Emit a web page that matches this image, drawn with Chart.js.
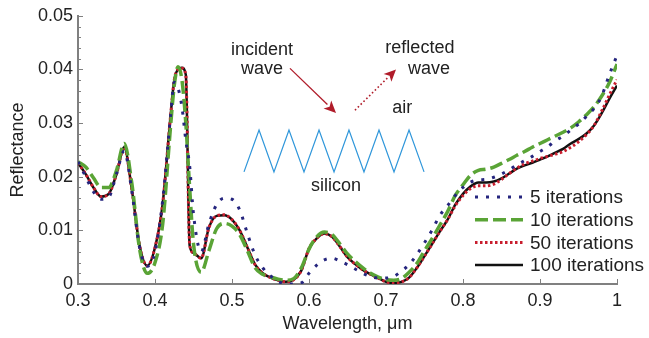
<!DOCTYPE html>
<html>
<head>
<meta charset="utf-8">
<script src="https://cdn.jsdelivr.net/npm/chart.js@4.4.0/dist/chart.umd.min.js"></script>
<style>
    html, body { margin: 0; padding: 0; background: #fff; }
    #wrap { width: 649px; height: 338px; }
</style>
</head>
<body>
<div id="wrap"><canvas id="chart" width="649" height="338"></canvas></div>
<script>
// wavelength grid (um)
const wavelength = [0.30, 0.31, 0.32, 0.33, 0.34, 0.35, 0.36, 0.37, 0.38, 0.39, 0.40, 0.41, 0.42, 0.425, 0.43, 0.435, 0.44, 0.445, 0.45,
    0.46, 0.47, 0.48, 0.49, 0.50, 0.51, 0.52, 0.53, 0.54, 0.55, 0.56, 0.57, 0.58, 0.59, 0.60, 0.61, 0.62, 0.63, 0.64, 0.65,
    0.66, 0.67, 0.68, 0.69, 0.70, 0.71, 0.72, 0.73, 0.74, 0.75, 0.76, 0.77, 0.78, 0.79, 0.80, 0.81, 0.82, 0.83, 0.84, 0.85,
    0.86, 0.87, 0.88, 0.89, 0.90, 0.91, 0.92, 0.93, 0.94, 0.95, 0.96, 0.97, 0.98, 0.99, 1.00];

const iter5 = [0.0228, 0.0200, 0.0172, 0.0158, 0.0162, 0.0205, 0.0248, 0.0172, 0.0068, 0.0033, 0.0060, 0.0156, 0.0310, 0.0376, 0.0365, 0.0330, 0.0268, 0.0220, 0.0130,
    0.0060, 0.0112, 0.0148, 0.0160, 0.0158, 0.0138, 0.0094, 0.0054, 0.0030, 0.0015, 0.0005, 0.0000, 0.0000, 0.0002, 0.0020, 0.0035, 0.0045, 0.0048, 0.0043, 0.0036,
    0.0028, 0.0020, 0.0014, 0.0011, 0.0011, 0.0014, 0.0024, 0.0036, 0.0055, 0.0077, 0.0101, 0.0128, 0.0146, 0.0165, 0.0180, 0.0190, 0.0194, 0.0195, 0.0199, 0.0205,
    0.0213, 0.0222, 0.0230, 0.0238, 0.0247, 0.0256, 0.0267, 0.0276, 0.0287, 0.0298, 0.0312, 0.0327, 0.0350, 0.0390, 0.0426];

const iter10 = [0.0228, 0.0218, 0.0198, 0.0180, 0.0180, 0.0212, 0.0262, 0.0187, 0.0065, 0.0020, 0.0040, 0.0112, 0.0290, 0.0370, 0.0405, 0.0380, 0.0300, 0.0180, 0.0075,
    0.0022, 0.0062, 0.0103, 0.0113, 0.0108, 0.0092, 0.0062, 0.0030, 0.0018, 0.0013, 0.0009, 0.0007, 0.0010, 0.0030, 0.0065, 0.0088, 0.0097, 0.0092, 0.0075, 0.0056,
    0.0042, 0.0030, 0.0020, 0.0013, 0.0008, 0.0007, 0.0010, 0.0022, 0.0038, 0.0062, 0.0085, 0.0110, 0.0135, 0.0165, 0.0185, 0.0203, 0.0212, 0.0214, 0.0218, 0.0225,
    0.0232, 0.0240, 0.0247, 0.0255, 0.0262, 0.0269, 0.0276, 0.0283, 0.0291, 0.0302, 0.0315, 0.0330, 0.0350, 0.0375, 0.0410];

const iter50 = [0.0226, 0.0205, 0.0180, 0.0163, 0.0168, 0.0205, 0.0255, 0.0175, 0.0071, 0.0034, 0.0068, 0.0150, 0.0310, 0.0380, 0.0400, 0.0402, 0.0390, 0.0074, 0.0058,
    0.0048, 0.0105, 0.0127, 0.0129, 0.0120, 0.0100, 0.0068, 0.0036, 0.0020, 0.0012, 0.0007, 0.0004, 0.0008, 0.0025, 0.0066, 0.0085, 0.0094, 0.0088, 0.0070, 0.0050,
    0.0037, 0.0026, 0.0018, 0.0011, 0.0004, 0.0002, 0.0004, 0.0012, 0.0030, 0.0052, 0.0075, 0.0098, 0.0120, 0.0146, 0.0165, 0.0178, 0.0183, 0.0183, 0.0186, 0.0195,
    0.0206, 0.0216, 0.0224, 0.0229, 0.0234, 0.0238, 0.0242, 0.0247, 0.0255, 0.0265, 0.0278, 0.0295, 0.0322, 0.0352, 0.0381];

const iter100 = [0.0226, 0.0205, 0.0180, 0.0163, 0.0168, 0.0205, 0.0255, 0.0175, 0.0072, 0.0034, 0.0068, 0.0150, 0.0310, 0.0380, 0.0400, 0.0403, 0.0390, 0.0072, 0.0058,
    0.0048, 0.0105, 0.0127, 0.0128, 0.0120, 0.0100, 0.0068, 0.0036, 0.0020, 0.0012, 0.0007, 0.0004, 0.0008, 0.0025, 0.0066, 0.0085, 0.0094, 0.0088, 0.0070, 0.0050,
    0.0037, 0.0026, 0.0018, 0.0011, 0.0004, 0.0002, 0.0004, 0.0012, 0.0030, 0.0052, 0.0075, 0.0098, 0.0120, 0.0148, 0.0168, 0.0182, 0.0189, 0.0189, 0.0191, 0.0197,
    0.0206, 0.0215, 0.0221, 0.0226, 0.0232, 0.0238, 0.0245, 0.0252, 0.0262, 0.0270, 0.0280, 0.0295, 0.0318, 0.0345, 0.0370];

const seriesLabels = ['5 iterations', '10 iterations', '50 iterations', '100 iterations'];

// inset sketch, in data units
const noteTexts = [
    { text: 'incident', x: 0.539, y: 0.0437 },
    { text: 'wave', x: 0.539, y: 0.0400 },
    { text: 'reflected', x: 0.744, y: 0.0439 },
    { text: 'wave', x: 0.756, y: 0.0400 },
    { text: 'air', x: 0.721, y: 0.0328 },
    { text: 'silicon', x: 0.635, y: 0.0183 }
];
const zigzagX = [0.5156, 0.5351, 0.5545, 0.5740, 0.5935, 0.6130, 0.6325, 0.6519, 0.6714, 0.6909, 0.7104, 0.7299, 0.7494];
const zigzagLow = 0.0209, zigzagHigh = 0.0287;

const FONT = '"Liberation Sans", Arial, sans-serif';
const AXIS_GRAY = '#808080';
const ARROW_RED = '#b01c2a';

const pts = arr => wavelength.map((x, i) => ({ x: x, y: arr[i] }));

function drawArrow(ctx, x1, y1, x2, y2, dashed) {
    const ang = Math.atan2(y2 - y1, x2 - x1);
    const head = 12, wing = 5.5;
    const bx = x2 - head * Math.cos(ang), by = y2 - head * Math.sin(ang);
    ctx.save();
    ctx.strokeStyle = ARROW_RED;
    ctx.fillStyle = ARROW_RED;
    ctx.lineWidth = dashed ? 1.6 : 1.3;
    ctx.setLineDash(dashed ? [1.6, 2.4] : []);
    ctx.beginPath();
    ctx.moveTo(x1, y1);
    ctx.lineTo(bx, by);
    ctx.stroke();
    ctx.setLineDash([]);
    ctx.beginPath();
    ctx.moveTo(x2, y2);
    ctx.lineTo(bx + wing * Math.sin(ang), by - wing * Math.cos(ang));
    ctx.lineTo(bx + 3 * Math.cos(ang), by + 3 * Math.sin(ang));
    ctx.lineTo(bx - wing * Math.sin(ang), by + wing * Math.cos(ang));
    ctx.closePath();
    ctx.fill();
    ctx.restore();
}

const decor = {
    id: 'decor',
    beforeDatasetsDraw(chart) {
        const { ctx, chartArea: a, scales: { x, y } } = chart;
        ctx.save();
        ctx.strokeStyle = AXIS_GRAY;
        ctx.lineWidth = 1;
        // y ticks, pointing inward, minor every 0.002
        for (let k = 0; k <= 25; k++) {
            const py = Math.round(y.getPixelForValue(k * 0.002)) + 0.5;
            const len = k % 5 === 0 ? 5 : 3;
            ctx.beginPath();
            ctx.moveTo(a.left, py);
            ctx.lineTo(a.left + len, py);
            ctx.stroke();
        }
        x.ticks.forEach(t => {
            const px = Math.round(x.getPixelForValue(t.value)) + 0.5;
            ctx.beginPath();
            ctx.moveTo(px, a.bottom);
            ctx.lineTo(px, a.bottom - 5);
            ctx.stroke();
        });
        ctx.restore();
    },
    afterDraw(chart) {
        const { ctx, chartArea: a, scales: { x, y } } = chart;
        ctx.save();

        // zigzag surface
        ctx.strokeStyle = '#2f96da';
        ctx.lineWidth = 1.2;
        ctx.beginPath();
        zigzagX.forEach((v, i) => {
            const px = x.getPixelForValue(v);
            const py = y.getPixelForValue(i % 2 === 0 ? zigzagLow : zigzagHigh);
            if (i === 0) ctx.moveTo(px, py); else ctx.lineTo(px, py);
        });
        ctx.stroke();

        drawArrow(ctx, x.getPixelForValue(0.5753), y.getPixelForValue(0.0402), x.getPixelForValue(0.6351), y.getPixelForValue(0.0319), false);
        drawArrow(ctx, x.getPixelForValue(0.6597), y.getPixelForValue(0.0324), x.getPixelForValue(0.7130), y.getPixelForValue(0.0400), true);

        ctx.fillStyle = '#222';
        ctx.font = '18px ' + FONT;
        ctx.textAlign = 'center';
        ctx.textBaseline = 'middle';
        noteTexts.forEach(n => ctx.fillText(n.text, x.getPixelForValue(n.x), y.getPixelForValue(n.y)));

        // legend
        const lx = a.right - 142, top = a.bottom - 87, step = 22.7;
        ctx.font = '19px ' + FONT;
        ctx.textAlign = 'left';
        chart.data.datasets.forEach((ds, i) => {
            const ly = top + i * step;
            ctx.save();
            ctx.strokeStyle = ds.borderColor;
            ctx.lineWidth = ds.borderWidth;
            ctx.setLineDash(ds.borderDash || []);
            ctx.beginPath();
            ctx.moveTo(lx, ly);
            ctx.lineTo(lx + 48, ly);
            ctx.stroke();
            ctx.restore();
            ctx.fillText(ds.label, lx + 55, ly + 1);
        });
        ctx.restore();
    }
};

const common = { pointRadius: 0, fill: false, cubicInterpolationMode: 'monotone', borderCapStyle: 'butt' };

new Chart(document.getElementById('chart'), {
    type: 'line',
    data: {
        datasets: [
            { ...common, label: seriesLabels[0], data: pts(iter5), borderColor: '#25257e', borderWidth: 3, borderDash: [3, 8] },
            { ...common, label: seriesLabels[1], data: pts(iter10), borderColor: '#5aa436', borderWidth: 3.5, borderDash: [13, 5] },
            { ...common, label: seriesLabels[2], data: pts(iter50), borderColor: '#c81e2e', borderWidth: 3, borderDash: [2.5, 2.5] },
            { ...common, label: seriesLabels[3], data: pts(iter100), borderColor: '#111111', borderWidth: 2.5 }
        ]
    },
    options: {
        responsive: false,
        animation: false,
        devicePixelRatio: 1,
        layout: { padding: { top: 14, right: 32, bottom: 0, left: 0 } },
        plugins: { legend: { display: false }, tooltip: { enabled: false } },
        scales: {
            x: {
                type: 'linear', min: 0.3, max: 1,
                grid: { display: false, drawTicks: false },
                border: { display: true, color: AXIS_GRAY, width: 2 },
                ticks: { stepSize: 0.1, padding: 6, color: '#222', font: { family: FONT, size: 18 }, callback: v => String(+v.toFixed(2)) },
                title: { display: true, text: 'Wavelength, \u03bcm', color: '#222', font: { family: FONT, size: 18 }, padding: { top: 0, bottom: 3 } },
                afterFit: s => { s.height = 54; }
            },
            y: {
                min: 0, max: 0.05,
                grid: { display: false, drawTicks: false },
                border: { display: true, color: AXIS_GRAY, width: 2 },
                ticks: { stepSize: 0.01, padding: 5, color: '#222', font: { family: FONT, size: 18 }, callback: v => String(+v.toFixed(3)) },
                title: { display: true, text: 'Reflectance', color: '#222', font: { family: FONT, size: 18 }, padding: { top: 7, bottom: 0 } },
                afterFit: s => { s.width = 78; }
            }
        }
    },
    plugins: [decor]
});
</script>
</body>
</html>
